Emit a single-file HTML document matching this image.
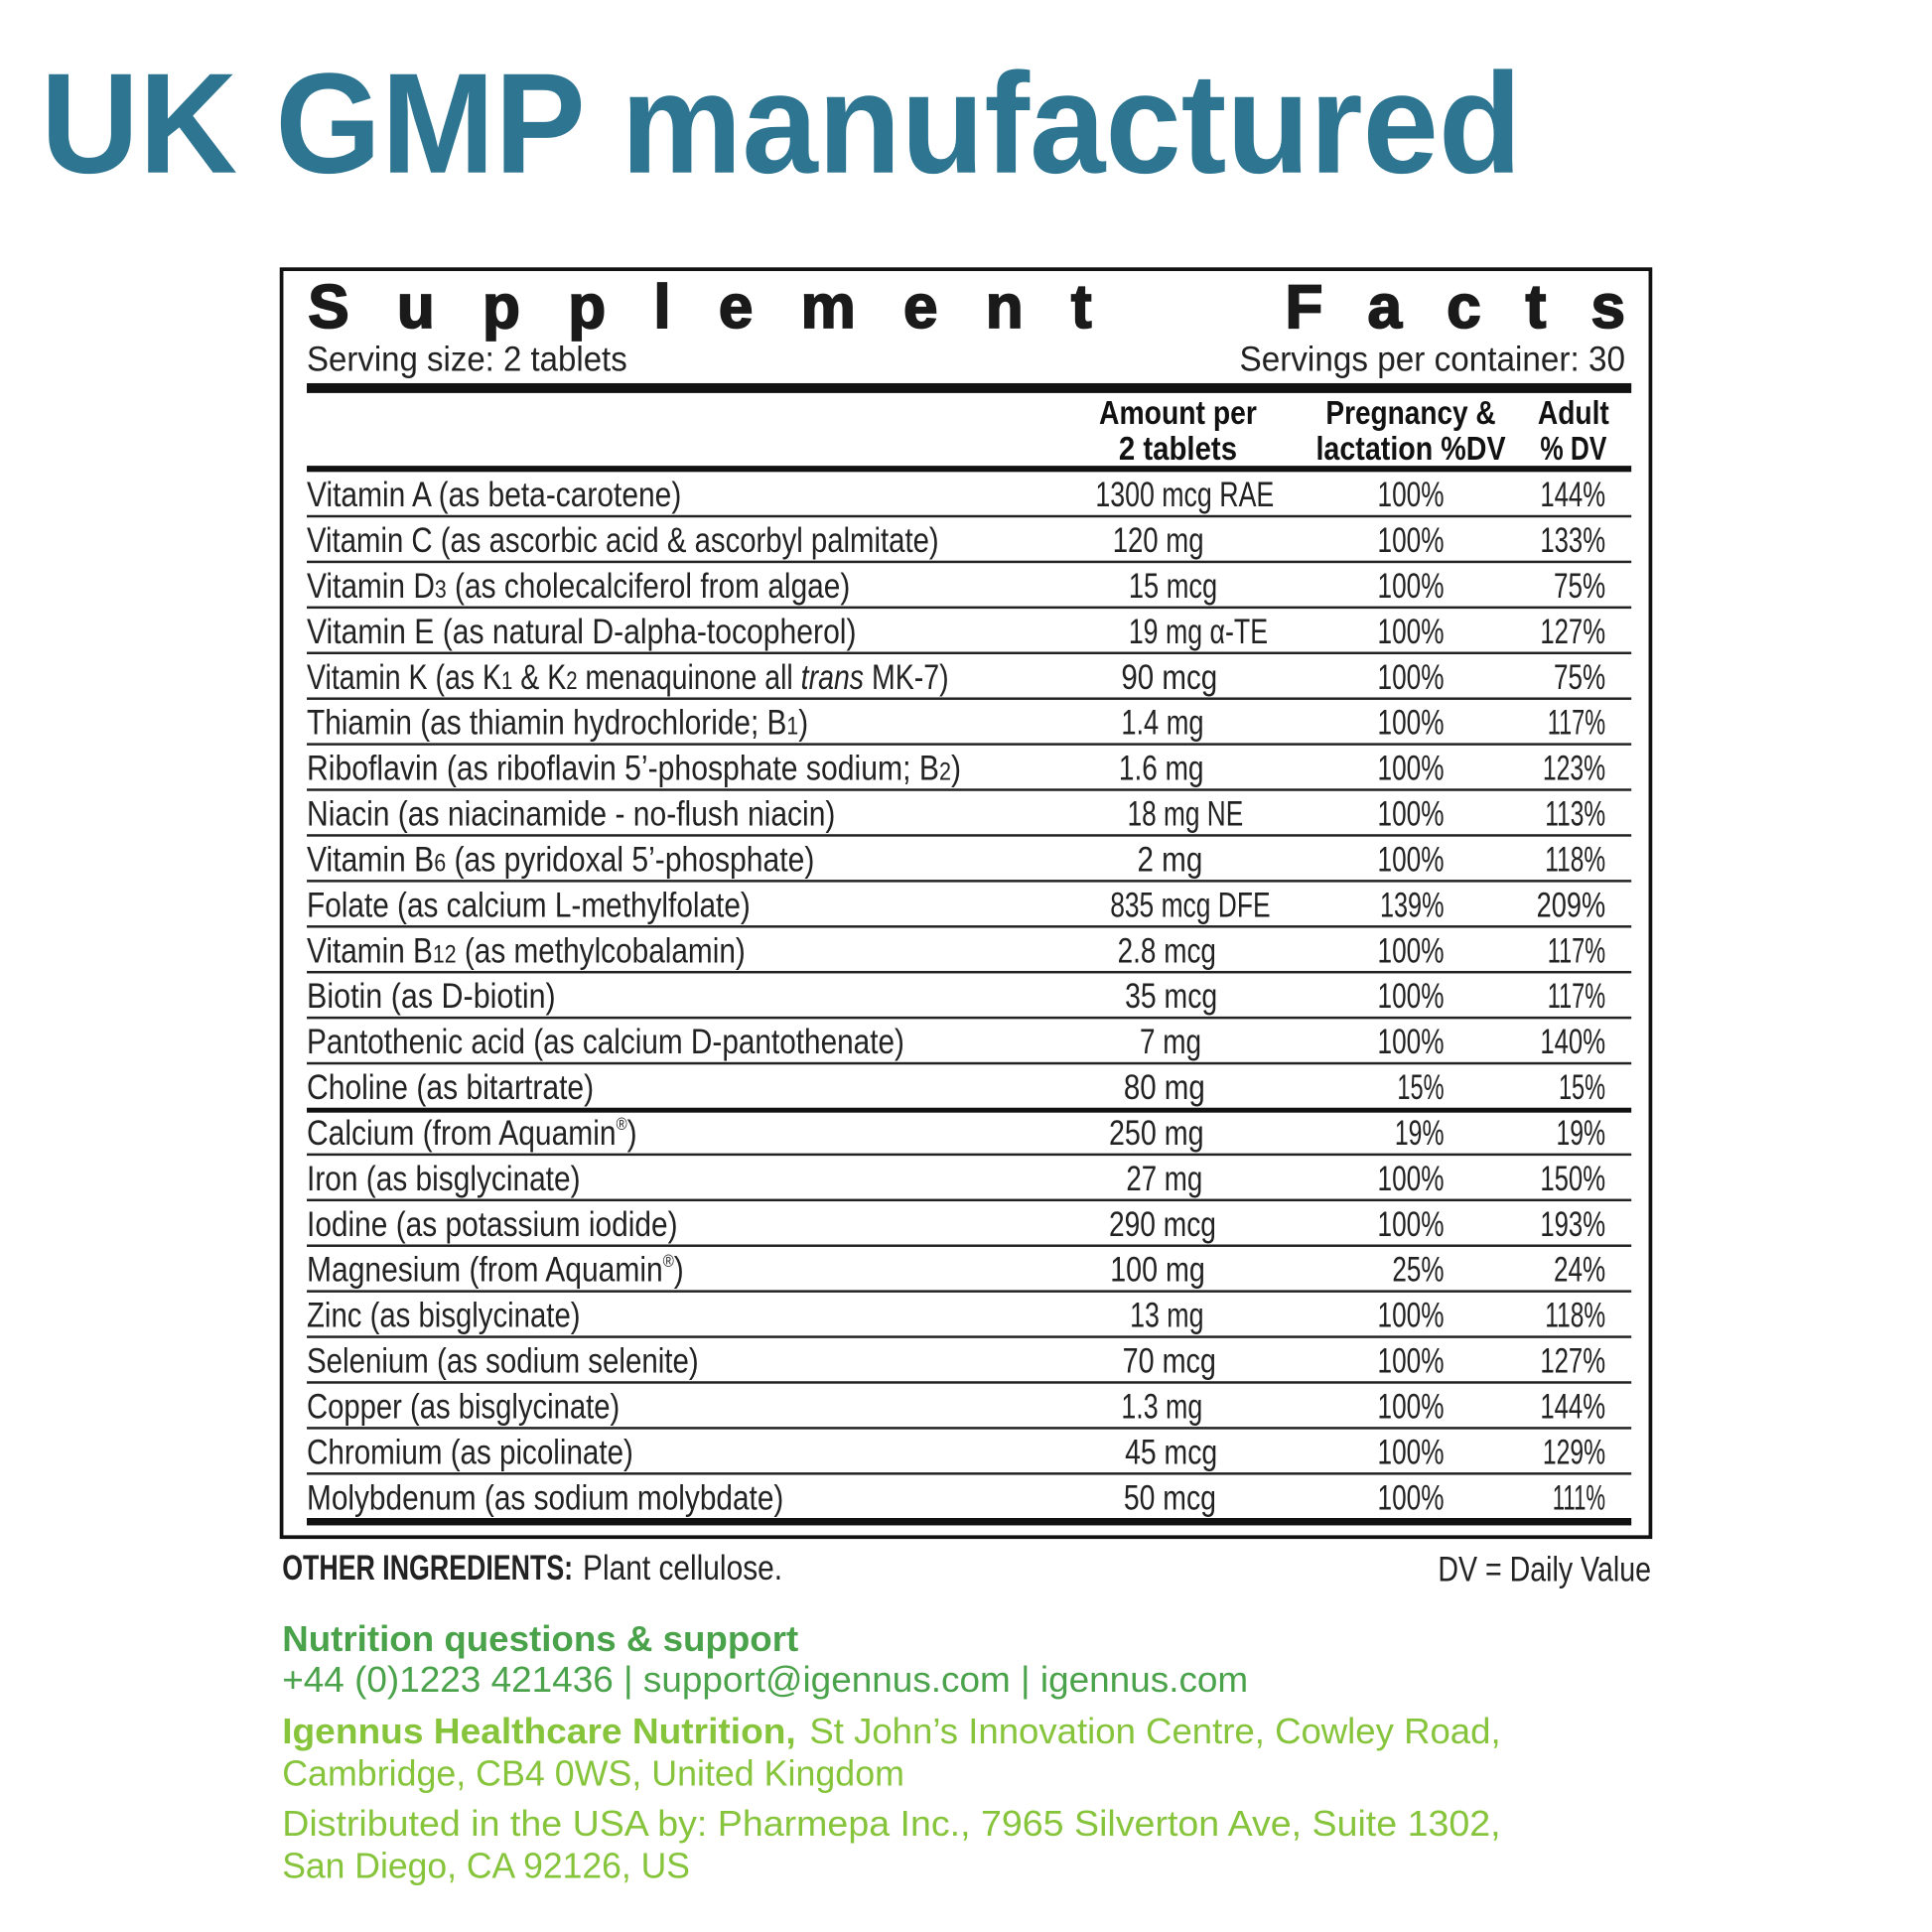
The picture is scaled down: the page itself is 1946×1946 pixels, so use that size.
<!DOCTYPE html>
<html><head><meta charset="utf-8"><style>
html,body{margin:0;padding:0;background:#fff;width:1946px;height:1946px;overflow:hidden}
svg{display:block}
text{font-family:"Liberation Sans Narrow","Liberation Sans",sans-serif}
.r{font-size:28px;fill:#222}
.h{font-size:27px;font-weight:bold;fill:#111}
</style></head><body>
<svg width="1946" height="1946" viewBox="0 0 1568 1568" xmlns="http://www.w3.org/2000/svg">
<rect width="1568" height="1568" fill="#fff"/>
<text x="33" y="140" font-weight="bold" font-size="116" fill="#2e7592" textLength="1202" lengthAdjust="spacingAndGlyphs" style="font-family:'Liberation Sans',sans-serif">UK GMP manufactured</text>
<rect x="228.5" y="218.5" width="1111" height="1029" fill="none" stroke="#111" stroke-width="3"/>
<text x="250" y="266" font-size="50" font-weight="bold" fill="#1a1a1a" stroke="#1a1a1a" stroke-width="1.5" style="font-family:'Liberation Sans',sans-serif" textLength="636" lengthAdjust="spacing">Supplement</text>
<text x="1043" y="266" font-size="50" font-weight="bold" fill="#1a1a1a" stroke="#1a1a1a" stroke-width="1.5" style="font-family:'Liberation Sans',sans-serif" textLength="276" lengthAdjust="spacing">Facts</text>
<text x="249" y="301" class="r" textLength="260" lengthAdjust="spacingAndGlyphs">Serving size: 2 tablets</text>
<text x="1006" y="301" class="r" textLength="313" lengthAdjust="spacingAndGlyphs">Servings per container: 30</text>
<rect x="249" y="311" width="1075" height="8" fill="#111"/>
<g text-anchor="middle">
<text x="956" y="344" class="h" textLength="128" lengthAdjust="spacingAndGlyphs">Amount per</text>
<text x="956" y="373" class="h" textLength="96" lengthAdjust="spacingAndGlyphs">2 tablets</text>
<text x="1145" y="344" class="h" textLength="138" lengthAdjust="spacingAndGlyphs">Pregnancy &amp;</text>
<text x="1145" y="373" class="h" textLength="154" lengthAdjust="spacingAndGlyphs">lactation %DV</text>
<text x="1277" y="344" class="h" textLength="58" lengthAdjust="spacingAndGlyphs">Adult</text>
<text x="1277" y="373" class="h" textLength="54" lengthAdjust="spacingAndGlyphs">% DV</text>
</g>
<rect x="249" y="378" width="1075" height="5" fill="#111"/>
<rect x="249" y="1232" width="1075" height="6" fill="#111"/>
<text x="229" y="1282" font-size="28" font-weight="bold" fill="#222" textLength="236" lengthAdjust="spacingAndGlyphs">OTHER INGREDIENTS:</text>
<text x="473" y="1282" class="r" textLength="162" lengthAdjust="spacingAndGlyphs">Plant cellulose.</text>
<text x="1340" y="1283" class="r" text-anchor="end" textLength="173" lengthAdjust="spacingAndGlyphs">DV = Daily Value</text>
<text x="229" y="1340" font-size="29" font-weight="bold" fill="#4aa24a" style="font-family:'Liberation Sans',sans-serif" textLength="419" lengthAdjust="spacingAndGlyphs">Nutrition questions &amp; support</text>
<text x="229" y="1373" font-size="29" fill="#4aa24a" style="font-family:'Liberation Sans',sans-serif" textLength="784" lengthAdjust="spacingAndGlyphs">+44 (0)1223 421436 | support@igennus.com | igennus.com</text>
<text x="229" y="1415" font-size="29" font-weight="bold" fill="#86c43c" style="font-family:'Liberation Sans',sans-serif" textLength="417" lengthAdjust="spacingAndGlyphs">Igennus Healthcare Nutrition,</text>
<text x="657" y="1415" font-size="29" fill="#86c43c" style="font-family:'Liberation Sans',sans-serif" textLength="561" lengthAdjust="spacingAndGlyphs">St John’s Innovation Centre, Cowley Road,</text>
<text x="229" y="1449" font-size="29" fill="#86c43c" style="font-family:'Liberation Sans',sans-serif" textLength="505" lengthAdjust="spacingAndGlyphs">Cambridge, CB4 0WS, United Kingdom</text>
<text x="229" y="1490" font-size="29" fill="#86c43c" style="font-family:'Liberation Sans',sans-serif" textLength="989" lengthAdjust="spacingAndGlyphs">Distributed in the USA by: Pharmepa Inc., 7965 Silverton Ave, Suite 1302,</text>
<text x="229" y="1524" font-size="29" fill="#86c43c" style="font-family:'Liberation Sans',sans-serif" textLength="331" lengthAdjust="spacingAndGlyphs">San Diego, CA 92126, US</text>

<g class="r">
<text x="249" y="411" textLength="304" lengthAdjust="spacingAndGlyphs">Vitamin A (as beta-carotene)</text>
<text x="889" y="411" textLength="145" lengthAdjust="spacingAndGlyphs">1300 mcg RAE</text><text x="1118" y="411" textLength="54" lengthAdjust="spacingAndGlyphs">100%</text><text x="1250" y="411" textLength="53" lengthAdjust="spacingAndGlyphs">144%</text>
<rect x="249" y="418" width="1075" height="2" fill="#222"/>
<text x="249" y="448" textLength="513" lengthAdjust="spacingAndGlyphs">Vitamin C (as ascorbic acid &amp; ascorbyl palmitate)</text>
<text x="903" y="448" textLength="74" lengthAdjust="spacingAndGlyphs">120 mg</text><text x="1118" y="448" textLength="54" lengthAdjust="spacingAndGlyphs">100%</text><text x="1250" y="448" textLength="53" lengthAdjust="spacingAndGlyphs">133%</text>
<rect x="249" y="455" width="1075" height="2" fill="#222"/>
<text x="249" y="485" textLength="441" lengthAdjust="spacingAndGlyphs">Vitamin D<tspan font-size="20">3</tspan> (as cholecalciferol from algae)</text>
<text x="916" y="485" textLength="72" lengthAdjust="spacingAndGlyphs">15 mcg</text><text x="1118" y="485" textLength="54" lengthAdjust="spacingAndGlyphs">100%</text><text x="1261" y="485" textLength="42" lengthAdjust="spacingAndGlyphs">75%</text>
<rect x="249" y="492" width="1075" height="2" fill="#222"/>
<text x="249" y="522" textLength="446" lengthAdjust="spacingAndGlyphs">Vitamin E (as natural D-alpha-tocopherol)</text>
<text x="916" y="522" textLength="113" lengthAdjust="spacingAndGlyphs">19 mg α-TE</text><text x="1118" y="522" textLength="54" lengthAdjust="spacingAndGlyphs">100%</text><text x="1250" y="522" textLength="53" lengthAdjust="spacingAndGlyphs">127%</text>
<rect x="249" y="529" width="1075" height="2" fill="#222"/>
<text x="249" y="559" textLength="521" lengthAdjust="spacingAndGlyphs">Vitamin K (as K<tspan font-size="20">1</tspan> &amp; K<tspan font-size="20">2</tspan> menaquinone all <tspan font-style="italic">trans</tspan> MK-7)</text>
<text x="910" y="559" textLength="78" lengthAdjust="spacingAndGlyphs">90 mcg</text><text x="1118" y="559" textLength="54" lengthAdjust="spacingAndGlyphs">100%</text><text x="1261" y="559" textLength="42" lengthAdjust="spacingAndGlyphs">75%</text>
<rect x="249" y="566" width="1075" height="2" fill="#222"/>
<text x="249" y="596" textLength="407" lengthAdjust="spacingAndGlyphs">Thiamin (as thiamin hydrochloride; B<tspan font-size="20">1</tspan>)</text>
<text x="910" y="596" textLength="67" lengthAdjust="spacingAndGlyphs">1.4 mg</text><text x="1118" y="596" textLength="54" lengthAdjust="spacingAndGlyphs">100%</text><text x="1256" y="596" textLength="47" lengthAdjust="spacingAndGlyphs">117%</text>
<rect x="249" y="603" width="1075" height="2" fill="#222"/>
<text x="249" y="633" textLength="531" lengthAdjust="spacingAndGlyphs">Riboflavin (as riboflavin 5’-phosphate sodium; B<tspan font-size="20">2</tspan>)</text>
<text x="908" y="633" textLength="69" lengthAdjust="spacingAndGlyphs">1.6 mg</text><text x="1118" y="633" textLength="54" lengthAdjust="spacingAndGlyphs">100%</text><text x="1252" y="633" textLength="51" lengthAdjust="spacingAndGlyphs">123%</text>
<rect x="249" y="640" width="1075" height="2" fill="#222"/>
<text x="249" y="670" textLength="429" lengthAdjust="spacingAndGlyphs">Niacin (as niacinamide - no-flush niacin)</text>
<text x="915" y="670" textLength="94" lengthAdjust="spacingAndGlyphs">18 mg NE</text><text x="1118" y="670" textLength="54" lengthAdjust="spacingAndGlyphs">100%</text><text x="1254" y="670" textLength="49" lengthAdjust="spacingAndGlyphs">113%</text>
<rect x="249" y="677" width="1075" height="2" fill="#222"/>
<text x="249" y="707" textLength="412" lengthAdjust="spacingAndGlyphs">Vitamin B<tspan font-size="20">6</tspan> (as pyridoxal 5’-phosphate)</text>
<text x="923" y="707" textLength="53" lengthAdjust="spacingAndGlyphs">2 mg</text><text x="1118" y="707" textLength="54" lengthAdjust="spacingAndGlyphs">100%</text><text x="1254" y="707" textLength="49" lengthAdjust="spacingAndGlyphs">118%</text>
<rect x="249" y="714" width="1075" height="2" fill="#222"/>
<text x="249" y="744" textLength="360" lengthAdjust="spacingAndGlyphs">Folate (as calcium L-methylfolate)</text>
<text x="901" y="744" textLength="130" lengthAdjust="spacingAndGlyphs">835 mcg DFE</text><text x="1120" y="744" textLength="52" lengthAdjust="spacingAndGlyphs">139%</text><text x="1247" y="744" textLength="56" lengthAdjust="spacingAndGlyphs">209%</text>
<rect x="249" y="751" width="1075" height="2" fill="#222"/>
<text x="249" y="781" textLength="356" lengthAdjust="spacingAndGlyphs">Vitamin B<tspan font-size="20">12</tspan> (as methylcobalamin)</text>
<text x="907" y="781" textLength="80" lengthAdjust="spacingAndGlyphs">2.8 mcg</text><text x="1118" y="781" textLength="54" lengthAdjust="spacingAndGlyphs">100%</text><text x="1256" y="781" textLength="47" lengthAdjust="spacingAndGlyphs">117%</text>
<rect x="249" y="788" width="1075" height="2" fill="#222"/>
<text x="249" y="818" textLength="202" lengthAdjust="spacingAndGlyphs">Biotin (as D-biotin)</text>
<text x="913" y="818" textLength="75" lengthAdjust="spacingAndGlyphs">35 mcg</text><text x="1118" y="818" textLength="54" lengthAdjust="spacingAndGlyphs">100%</text><text x="1256" y="818" textLength="47" lengthAdjust="spacingAndGlyphs">117%</text>
<rect x="249" y="825" width="1075" height="2" fill="#222"/>
<text x="249" y="855" textLength="485" lengthAdjust="spacingAndGlyphs">Pantothenic acid (as calcium D-pantothenate)</text>
<text x="925" y="855" textLength="50" lengthAdjust="spacingAndGlyphs">7 mg</text><text x="1118" y="855" textLength="54" lengthAdjust="spacingAndGlyphs">100%</text><text x="1250" y="855" textLength="53" lengthAdjust="spacingAndGlyphs">140%</text>
<rect x="249" y="862" width="1075" height="2" fill="#222"/>
<text x="249" y="892" textLength="233" lengthAdjust="spacingAndGlyphs">Choline (as bitartrate)</text>
<text x="912" y="892" textLength="66" lengthAdjust="spacingAndGlyphs">80 mg</text><text x="1134" y="892" textLength="38" lengthAdjust="spacingAndGlyphs">15%</text><text x="1265" y="892" textLength="38" lengthAdjust="spacingAndGlyphs">15%</text>
<rect x="249" y="899" width="1075" height="4" fill="#111"/>
<text x="249" y="929" textLength="268" lengthAdjust="spacingAndGlyphs">Calcium (from Aquamin<tspan font-size="14" dy="-12">®</tspan><tspan dy="12">)</tspan></text>
<text x="900" y="929" textLength="77" lengthAdjust="spacingAndGlyphs">250 mg</text><text x="1132" y="929" textLength="40" lengthAdjust="spacingAndGlyphs">19%</text><text x="1263" y="929" textLength="40" lengthAdjust="spacingAndGlyphs">19%</text>
<rect x="249" y="936" width="1075" height="2" fill="#222"/>
<text x="249" y="966" textLength="222" lengthAdjust="spacingAndGlyphs">Iron (as bisglycinate)</text>
<text x="914" y="966" textLength="62" lengthAdjust="spacingAndGlyphs">27 mg</text><text x="1118" y="966" textLength="54" lengthAdjust="spacingAndGlyphs">100%</text><text x="1250" y="966" textLength="53" lengthAdjust="spacingAndGlyphs">150%</text>
<rect x="249" y="973" width="1075" height="2" fill="#222"/>
<text x="249" y="1003" textLength="301" lengthAdjust="spacingAndGlyphs">Iodine (as potassium iodide)</text>
<text x="900" y="1003" textLength="87" lengthAdjust="spacingAndGlyphs">290 mcg</text><text x="1118" y="1003" textLength="54" lengthAdjust="spacingAndGlyphs">100%</text><text x="1250" y="1003" textLength="53" lengthAdjust="spacingAndGlyphs">193%</text>
<rect x="249" y="1010" width="1075" height="2" fill="#222"/>
<text x="249" y="1040" textLength="306" lengthAdjust="spacingAndGlyphs">Magnesium (from Aquamin<tspan font-size="14" dy="-12">®</tspan><tspan dy="12">)</tspan></text>
<text x="901" y="1040" textLength="77" lengthAdjust="spacingAndGlyphs">100 mg</text><text x="1130" y="1040" textLength="42" lengthAdjust="spacingAndGlyphs">25%</text><text x="1261" y="1040" textLength="42" lengthAdjust="spacingAndGlyphs">24%</text>
<rect x="249" y="1047" width="1075" height="2" fill="#222"/>
<text x="249" y="1077" textLength="222" lengthAdjust="spacingAndGlyphs">Zinc (as bisglycinate)</text>
<text x="917" y="1077" textLength="60" lengthAdjust="spacingAndGlyphs">13 mg</text><text x="1118" y="1077" textLength="54" lengthAdjust="spacingAndGlyphs">100%</text><text x="1254" y="1077" textLength="49" lengthAdjust="spacingAndGlyphs">118%</text>
<rect x="249" y="1084" width="1075" height="2" fill="#222"/>
<text x="249" y="1114" textLength="318" lengthAdjust="spacingAndGlyphs">Selenium (as sodium selenite)</text>
<text x="911" y="1114" textLength="76" lengthAdjust="spacingAndGlyphs">70 mcg</text><text x="1118" y="1114" textLength="54" lengthAdjust="spacingAndGlyphs">100%</text><text x="1250" y="1114" textLength="53" lengthAdjust="spacingAndGlyphs">127%</text>
<rect x="249" y="1121" width="1075" height="2" fill="#222"/>
<text x="249" y="1151" textLength="254" lengthAdjust="spacingAndGlyphs">Copper (as bisglycinate)</text>
<text x="910" y="1151" textLength="66" lengthAdjust="spacingAndGlyphs">1.3 mg</text><text x="1118" y="1151" textLength="54" lengthAdjust="spacingAndGlyphs">100%</text><text x="1250" y="1151" textLength="53" lengthAdjust="spacingAndGlyphs">144%</text>
<rect x="249" y="1158" width="1075" height="2" fill="#222"/>
<text x="249" y="1188" textLength="265" lengthAdjust="spacingAndGlyphs">Chromium (as picolinate)</text>
<text x="913" y="1188" textLength="75" lengthAdjust="spacingAndGlyphs">45 mcg</text><text x="1118" y="1188" textLength="54" lengthAdjust="spacingAndGlyphs">100%</text><text x="1252" y="1188" textLength="51" lengthAdjust="spacingAndGlyphs">129%</text>
<rect x="249" y="1195" width="1075" height="2" fill="#222"/>
<text x="249" y="1225" textLength="387" lengthAdjust="spacingAndGlyphs">Molybdenum (as sodium molybdate)</text>
<text x="912" y="1225" textLength="75" lengthAdjust="spacingAndGlyphs">50 mcg</text><text x="1118" y="1225" textLength="54" lengthAdjust="spacingAndGlyphs">100%</text><text x="1260" y="1225" textLength="43" lengthAdjust="spacingAndGlyphs">111%</text>
</g>
</svg>
</body></html>
